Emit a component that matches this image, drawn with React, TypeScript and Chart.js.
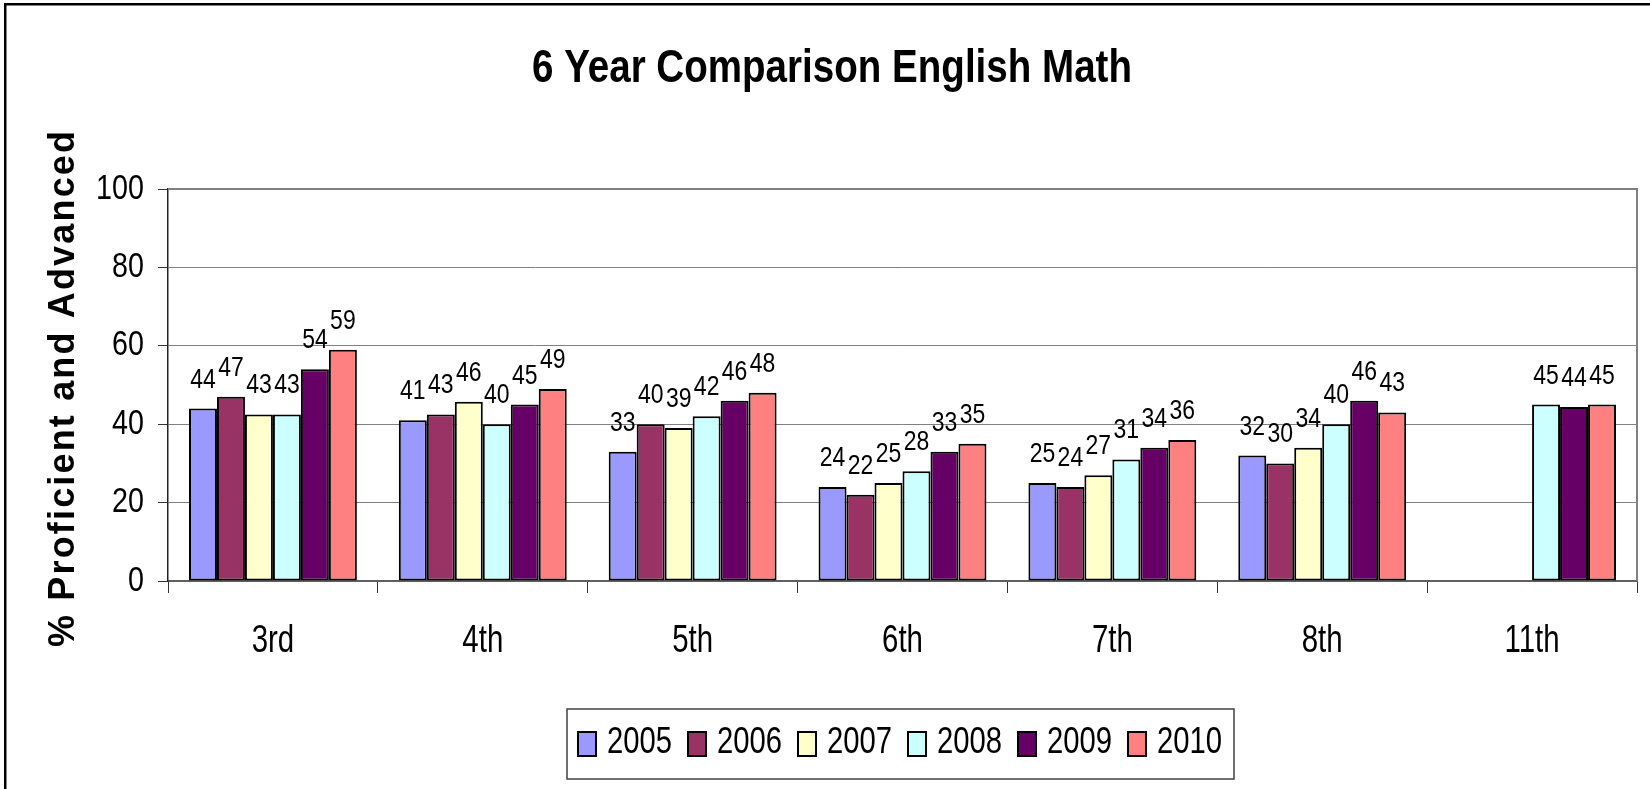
import React, { useEffect, useRef } from 'react';
import { Chart, registerables } from 'chart.js';

Chart.register(...registerables);

const categories = ['3rd', '4th', '5th', '6th', '7th', '8th', '11th'];
const seriesNames = ['2005', '2006', '2007', '2008', '2009', '2010'];
const values2005 = [44, 41, 33, 24, 25, 32, null];
const values2006 = [47, 42.5, 40, 22, 24, 30, null];
const values2007 = [42.5, 45.7, 39, 25, 27, 34, null];
const values2008 = [42.5, 40, 42, 28, 31, 40, 45];
const values2009 = [54, 45, 46, 33, 34, 46, 44.4];
const values2010 = [59, 49, 48, 35, 36, 43, 45];
const seriesValues = [values2005, values2006, values2007, values2008, values2009, values2010];
const seriesColors = ['#9999FF', '#993366', '#FFFFCC', '#CCFFFF', '#660066', '#FF8080'];
const yMin = 0;
const yMax = 100;
const yStep = 20;
const chartTitle = '6 Year Comparison English Math';
const yAxisTitle = '% Proficient and Advanced';

const FONT = '"Liberation Sans", Arial, sans-serif';
const NARROW_X = 0.82;

function drawNarrow(
  ctx: CanvasRenderingContext2D,
  text: string,
  x: number,
  y: number,
  font: string,
  align: CanvasTextAlign,
  baseline: CanvasTextBaseline,
  sx: number = NARROW_X
) {
  ctx.save();
  ctx.translate(x, y);
  ctx.scale(sx, 1);
  ctx.font = font;
  ctx.textAlign = align;
  ctx.textBaseline = baseline;
  ctx.fillStyle = '#000';
  ctx.fillText(text, 0, 0);
  ctx.restore();
}

const decorPlugin = {
  id: 'decor',
  beforeDraw(chart: any) {
    const ctx = chart.ctx;
    ctx.save();
    ctx.fillStyle = '#ffffff';
    ctx.fillRect(0, 0, chart.width, chart.height);
    ctx.restore();
  },
  afterDatasetsDraw(chart: any) {
    const ctx = chart.ctx;
    chart.data.datasets.forEach((ds: any, i: number) => {
      const meta = chart.getDatasetMeta(i);
      meta.data.forEach((el: any, j: number) => {
        const v = ds.data[j];
        if (v === null || v === undefined) return;
        drawNarrow(ctx, String(Math.round(v)), el.x, el.y - 21, `28px ${FONT}`, 'center', 'alphabetic');
      });
    });
  },
  afterDraw(chart: any) {
    const ctx = chart.ctx;
    const area = chart.chartArea;
    ctx.save();
    // plot area border (top & right)
    ctx.strokeStyle = '#808080';
    ctx.lineWidth = 2;
    ctx.beginPath();
    ctx.moveTo(area.left, area.top);
    ctx.lineTo(area.right, area.top);
    ctx.lineTo(area.right, area.bottom);
    ctx.stroke();

    // outer frame
    ctx.strokeStyle = '#000';
    ctx.lineWidth = 2.5;
    ctx.strokeRect(5.25, 4.25, chart.width + 50, chart.height + 50);
    ctx.restore();

    // tick labels (narrow)
    const xs = chart.scales.x;
    xs.ticks.forEach((t: any, i: number) => {
      drawNarrow(ctx, String(t.label), xs.getPixelForTick(i), 652, `39px ${FONT}`, 'center', 'alphabetic', 0.755);
    });
    const ys = chart.scales.y;
    ys.ticks.forEach((t: any, i: number) => {
      drawNarrow(ctx, String(t.value), 144, ys.getPixelForTick(i), `35px ${FONT}`, 'right', 'middle');
    });

    // title
    ctx.save();
    ctx.font = `bold 46px ${FONT}`;
    const tw = ctx.measureText(chartTitle).width;
    ctx.restore();
    drawNarrow(ctx, chartTitle, 832, 82, `bold 46px ${FONT}`, 'center', 'alphabetic', 600 / tw);

    // y axis title, letter-spaced
    ctx.save();
    ctx.translate(64, 389);
    ctx.rotate(-Math.PI / 2);
    ctx.font = `bold 36px ${FONT}`;
    ctx.fillStyle = '#000';
    ctx.textAlign = 'left';
    ctx.textBaseline = 'middle';
    const chars = Array.from(yAxisTitle);
    const widths = chars.map((c) => ctx.measureText(c).width);
    const total = widths.reduce((a, b) => a + b, 0);
    const targetLen = 516;
    const ls = Math.max(0, (targetLen - total) / (chars.length - 1));
    let cx = -targetLen / 2;
    chars.forEach((c, k) => {
      ctx.fillText(c, cx, 0);
      cx += widths[k] + ls;
    });
    ctx.restore();

    // legend
    ctx.save();
    const boxL = 567, boxT = 709, boxR = 1234, boxB = 779;
    ctx.strokeStyle = '#404040';
    ctx.lineWidth = 1.5;
    ctx.strokeRect(boxL, boxT, boxR - boxL, boxB - boxT);
    chart.data.datasets.forEach((ds: any, i: number) => {
      const x = 578 + i * 110;
      ctx.fillStyle = ds.backgroundColor;
      ctx.fillRect(x, 732, 18, 24);
      ctx.strokeStyle = '#000';
      ctx.lineWidth = 2;
      ctx.strokeRect(x, 732, 18, 24);
      drawNarrow(ctx, ds.label, x + 29, 753, `37px ${FONT}`, 'left', 'alphabetic', 0.79);
    });
    ctx.restore();
  },
};

export default function App() {
  const ref = useRef<HTMLCanvasElement | null>(null);
  useEffect(() => {
    if (!ref.current) return;
    const chart = new Chart(ref.current, {
      type: 'bar',
      data: {
        labels: categories,
        datasets: seriesNames.map((name, i) => ({
          label: name,
          data: seriesValues[i],
          backgroundColor: seriesColors[i],
          borderColor: '#000000',
          borderWidth: 2,
          borderSkipped: false,
          categoryPercentage: 0.8,
          barPercentage: 1.0,
        })),
      },
      options: {
        responsive: false,
        animation: false,
        layout: { padding: { top: 189, right: 13, bottom: 138, left: 0 } },
        plugins: {
          legend: { display: false },
          title: { display: false },
          tooltip: { enabled: false },
        },
        scales: {
          x: {
            offset: true,
            grid: {
              display: true,
              drawOnChartArea: false,
              drawTicks: true,
              tickLength: 12,
              color: '#333333',
              offset: true,
            },
            border: { display: true, color: '#606060', width: 2 },
            ticks: {
              display: false,
              maxRotation: 0,
              autoSkip: false,
            },
            afterFit: (scale: any) => {
              scale.height = 70;
            },
          },
          y: {
            min: yMin,
            max: yMax,
            ticks: {
              display: false,
              stepSize: yStep,
            },
            grid: {
              color: '#808080',
              lineWidth: 1,
              tickLength: 10,
              tickColor: '#333333',
            },
            border: { display: true, color: '#222222', width: 1.5 },
            afterFit: (scale: any) => {
              scale.width = 168;
            },
          },
        },
      },
      plugins: [decorPlugin],
    });
    return () => chart.destroy();
  }, []);
  return (
    <div style={{ position: 'fixed', left: 0, top: 0, width: 1650, height: 789 }}>
      <canvas ref={ref} width={1650} height={789} style={{ display: 'block', width: 1650, height: 789 }} />
    </div>
  );
}
